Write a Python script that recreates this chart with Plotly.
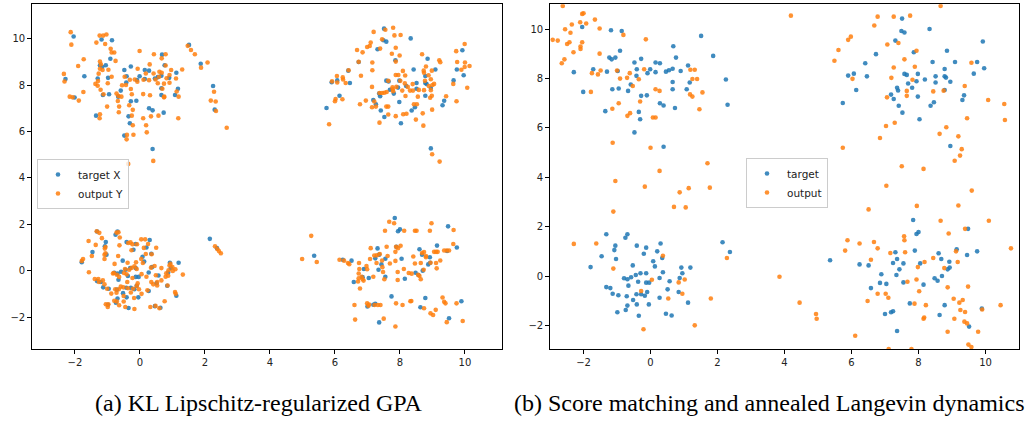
import plotly.graph_objects as go

# ---------------- data ----------------
# target points (shared by both panels), per cluster, (x, y)
target_tl = [(-2.04,10.09),(-2.29,8.26),(-2.01,7.46),(-1.71,8.38),(-1.30,8.28),(-1.35,6.68),(-1.18,9.96),(-1.23,8.85),(-1.16,8.78),(-1.05,8.85),(-1.14,7.57),(-0.98,8.31),(-0.95,7.60),(-0.86,9.93),(-0.91,9.13),(-0.67,7.50),(-0.59,7.76),(-0.48,8.65),(-0.41,8.38),(-0.42,8.11),(-0.28,8.80),(-0.28,7.30),(-0.11,7.32),(-0.35,6.65),(-0.31,6.35),(-0.48,5.82),(-0.09,8.22),(-0.01,8.38),(0.15,8.65),(0.15,8.26),(0.28,8.62),(0.28,7.00),(0.39,6.91),(0.39,5.24),(0.46,8.28),(0.55,8.34),(0.66,8.40),(0.68,9.31),(0.66,7.86),(0.66,7.57),(0.73,6.81),(0.76,8.85),(0.90,8.31),(1.08,7.57),(1.12,8.53),(1.17,7.84),(1.51,9.73),(1.87,8.92),(2.25,7.96),(2.30,6.94)]
target_bl = [(-1.79,0.36),(-1.46,0.80),(-1.32,1.69),(-1.32,-0.45),(-1.20,-0.49),(-1.13,-0.72),(-1.05,1.23),(-1.08,1.05),(-1.03,0.69),(-0.96,-0.78),(-0.99,-1.47),(-0.75,1.55),(-0.69,1.69),(-0.79,-0.09),(-0.69,-0.13),(-0.58,-0.05),(-0.66,-0.39),(-0.71,-0.82),(-0.69,-1.20),(-0.74,-1.38),(-0.53,0.43),(-0.52,-0.97),(-0.44,0.04),(-0.41,1.23),(-0.37,-0.23),(-0.41,-1.15),(-0.42,-0.74),(-0.35,-1.61),(-0.30,0.11),(-0.28,-0.74),(-0.20,0.90),(-0.17,-0.80),(-0.13,1.15),(-0.13,0.11),(-0.13,-0.27),(-0.10,-0.65),(-0.04,-0.27),(-0.05,-1.15),(0.08,0.60),(0.13,0.39),(0.20,1.00),(0.27,-0.08),(0.27,-0.88),(0.30,1.32),(0.35,0.73),(0.37,0.15),(0.46,-1.53),(0.51,-0.54),(0.57,-0.21),(0.63,-1.60),(0.84,-0.65),(0.87,-0.08),(0.92,0.34),(0.95,0.11),(1.12,-1.08),(1.19,0.34),(2.15,1.37),(2.37,0.97)]
target_tr = [(5.74,7.01),(5.90,8.12),(6.07,8.20),(6.14,7.54),(6.41,8.62),(6.46,8.09),(6.73,8.99),(7.18,7.35),(7.26,7.17),(7.31,9.54),(7.36,7.63),(7.39,7.52),(7.41,6.90),(7.49,9.93),(7.51,10.43),(7.58,9.87),(7.52,6.62),(7.58,8.19),(7.65,8.15),(7.69,7.80),(7.81,7.63),(7.86,9.07),(7.94,7.89),(7.98,8.19),(7.98,7.27),(8.03,6.35),(8.19,7.96),(8.33,10.01),(8.36,6.90),(8.42,8.67),(8.46,7.04),(8.51,8.09),(8.51,7.84),(8.78,8.39),(8.78,8.09),(8.82,8.04),(8.78,7.54),(8.85,9.13),(8.95,7.87),(8.95,5.27),(9.09,8.67),(9.31,7.13),(9.36,7.32),(9.65,8.20),(9.75,8.67),(9.92,9.50),(9.96,8.42)]
target_br = [(5.36,0.64),(6.24,0.47),(6.51,0.43),(6.58,-0.49),(6.85,-0.28),(6.89,0.07),(7.04,-0.32),(7.00,-1.54),(7.18,-1.47),(7.24,-1.43),(7.24,0.53),(7.31,0.96),(7.36,0.69),(7.34,0.04),(7.36,-2.23),(7.43,0.27),(7.55,0.51),(7.55,-0.26),(7.74,-1.11),(7.84,2.27),(7.89,1.03),(7.94,1.70),(8.00,1.78),(8.05,0.51),(8.15,-0.35),(8.48,-0.09),(8.57,-0.19),(8.60,0.92),(8.68,0.69),(8.70,0.00),(8.63,-1.58),(8.78,-1.18),(8.87,0.27),(8.93,0.34),(8.92,0.58),(9.14,1.08),(9.45,0.85),(9.48,1.91),(9.51,-2.05),(9.75,1.00),(9.89,-1.32)]

# panel (a): output Y of KL Lipschitz-regularized GPA
out_a_tl = [(-2.13,10.28),(-2.11,9.74),(-2.34,8.48),(-2.32,8.15),(-2.16,7.50),(-2.07,7.47),(-1.88,7.33),(-1.90,8.82),(-1.73,9.11),(-1.74,7.70),(-1.34,9.83),(-1.24,10.13),(-1.13,10.13),(-1.03,10.18),(-1.07,9.77),(-1.37,8.05),(-1.30,7.97),(-1.23,9.01),(-1.20,8.89),(-1.23,8.70),(-1.15,8.65),(-1.27,8.49),(-1.29,8.17),(-1.21,7.80),(-1.23,6.74),(-1.24,6.57),(-1.12,7.60),(-0.97,8.66),(-0.99,8.08),(-1.01,7.07),(-0.90,9.56),(-0.87,9.40),(-0.79,9.40),(-0.75,9.04),(-0.87,8.36),(-0.72,7.63),(-0.66,7.53),(-0.68,7.31),(-0.64,7.07),(-0.65,6.83),(-0.55,7.99),(-0.57,7.50),(-0.47,8.36),(-0.43,8.00),(-0.40,5.85),(-0.41,5.66),(-0.36,4.60),(-0.31,8.23),(-0.33,7.13),(-0.28,7.83),(-0.25,7.60),(-0.22,6.93),(-0.25,6.68),(-0.22,6.27),(-0.20,5.86),(-0.16,8.24),(-0.08,8.14),(-0.07,8.70),(-0.01,9.47),(0.11,8.23),(0.10,7.61),(0.10,6.57),(0.19,6.27),(0.21,5.96),(0.18,8.50),(0.28,8.21),(0.30,8.89),(0.31,7.56),(0.34,6.65),(0.41,4.73),(0.43,9.33),(0.42,8.50),(0.48,8.24),(0.55,8.08),(0.57,6.68),(0.59,8.36),(0.60,8.57),(0.67,8.53),(0.67,9.15),(0.69,7.84),(0.75,7.50),(0.74,8.06),(0.79,9.33),(0.79,8.84),(0.74,7.47),(0.82,8.29),(0.91,8.43),(0.91,8.10),(0.96,8.65),(1.11,8.28),(1.13,7.72),(1.19,7.50),(1.18,6.57),(1.30,8.67),(1.47,9.69),(1.57,9.51),(1.69,9.33),(1.88,8.75),(2.08,8.97),(2.18,7.33),(2.28,7.71),(2.33,7.29),(2.34,6.88),(2.67,6.16)]
out_a_tr = [(5.82,6.31),(5.91,8.16),(6.06,8.39),(6.07,8.11),(6.24,8.33),(6.25,8.24),(6.33,8.09),(6.00,7.30),(6.02,7.40),(6.23,7.39),(6.42,8.64),(6.68,9.51),(6.73,9.00),(6.77,7.17),(6.80,8.40),(6.85,9.41),(6.95,7.33),(6.99,9.64),(7.07,9.68),(7.10,9.83),(7.15,8.97),(7.15,8.64),(7.14,7.92),(7.19,10.29),(7.14,7.04),(7.26,7.07),(7.21,7.29),(7.37,6.38),(7.37,7.66),(7.39,9.57),(7.45,7.66),(7.55,10.38),(7.45,9.97),(7.52,7.67),(7.59,7.70),(7.58,7.07),(7.64,7.07),(7.64,6.73),(7.64,8.18),(7.75,9.35),(7.79,10.47),(7.83,10.14),(7.87,9.61),(7.87,9.01),(7.87,8.43),(7.87,6.66),(7.89,7.92),(7.95,8.43),(7.99,9.27),(8.02,10.16),(8.01,8.18),(7.78,7.82),(7.79,7.73),(7.77,7.90),(8.09,8.61),(8.16,8.41),(8.15,8.07),(8.17,7.53),(8.07,7.76),(8.10,6.74),(8.20,6.76),(8.24,7.92),(8.31,7.76),(8.39,8.04),(8.40,7.76),(8.43,7.17),(8.49,6.51),(8.52,7.17),(8.55,7.50),(8.58,7.79),(8.68,9.33),(8.70,6.78),(8.72,6.25),(8.73,8.62),(8.74,8.53),(8.80,8.80),(8.77,8.18),(8.74,7.78),(8.88,8.42),(8.89,7.96),(8.98,8.62),(8.95,8.25),(8.95,7.78),(9.00,8.00),(8.93,7.45),(8.99,6.94),(9.05,8.05),(8.98,7.54),(8.99,5.02),(9.22,4.70),(9.21,9.07),(9.24,8.98),(9.42,7.52),(9.64,8.05),(9.73,9.46),(9.74,7.30),(9.76,8.99),(9.89,8.66),(9.99,9.77),(10.00,8.97),(9.99,8.78),(10.07,7.88),(10.14,8.82)]
out_a_bl = [(-1.79,0.42),(-1.75,0.50),(-1.58,1.28),(-1.57,-0.07),(-1.48,0.63),(-1.36,1.11),(-1.33,1.70),(-1.25,1.63),(-1.39,-0.36),(-1.28,-0.36),(-1.26,-0.49),(-1.17,1.40),(-1.14,-0.42),(-1.09,0.68),(-1.09,0.50),(-1.06,0.75),(-1.06,1.02),(-1.08,0.95),(-1.01,-0.78),(-1.09,-0.59),(-1.05,-1.45),(-0.99,-1.57),(-0.97,-1.45),(-0.88,-0.99),(-0.83,-0.12),(-0.80,-0.10),(-0.78,0.29),(-0.76,-0.80),(-0.72,-0.95),(-0.71,-1.33),(-0.79,-1.30),(-0.72,1.64),(-0.66,1.65),(-0.62,1.43),(-0.67,0.63),(-0.63,1.09),(-0.71,-0.18),(-0.64,-0.27),(-0.65,-0.80),(-0.59,-0.69),(-0.64,-1.49),(-0.51,-0.72),(-0.50,-1.09),(-0.50,-1.33),(-0.49,-0.10),(-0.46,0.07),(-0.41,-0.16),(-0.39,-0.49),(-0.37,-0.76),(-0.38,0.34),(-0.36,1.19),(-0.29,1.22),(-0.33,0.04),(-0.28,-0.94),(-0.25,0.12),(-0.26,0.88),(-0.23,1.14),(-0.23,-0.32),(-0.21,-0.78),(-0.18,-1.18),(-0.17,-1.65),(-0.17,0.19),(-0.12,0.36),(-0.10,0.07),(-0.09,1.14),(-0.10,-0.66),(-0.07,-0.55),(-0.03,-0.80),(0.04,1.35),(0.04,0.50),(0.05,-0.15),(0.05,-1.00),(0.09,0.33),(0.12,0.98),(0.16,1.35),(0.18,0.72),(0.20,-0.26),(0.23,-0.85),(0.25,1.15),(0.36,0.71),(0.34,0.13),(0.35,-0.49),(0.32,-1.57),(0.41,-0.59),(0.45,0.20),(0.49,-0.20),(0.50,0.99),(0.48,-1.52),(0.53,-0.64),(0.53,-0.49),(0.60,-1.62),(0.66,0.11),(0.66,-0.42),(0.76,-1.32),(0.79,-0.26),(0.81,-0.11),(0.85,-0.64),(0.87,-0.22),(0.88,0.02),(0.91,0.22),(0.94,0.29),(1.00,0.15),(1.01,-0.01),(1.08,-0.92),(1.09,0.06),(1.10,-1.00),(1.32,-0.17),(2.31,1.05),(2.38,0.93),(2.43,0.85),(2.49,0.75),(-0.45,-1.57)]
out_a_br = [(4.99,0.50),(5.27,1.50),(5.44,0.37),(6.14,0.47),(6.28,0.43),(6.40,0.33),(6.44,0.28),(6.60,-1.48),(6.62,-2.11),(6.71,-0.47),(6.73,-0.33),(6.73,-0.12),(6.75,0.07),(6.74,0.33),(6.77,-0.77),(6.82,-0.26),(6.85,-0.37),(6.88,-0.43),(6.97,0.20),(6.99,0.06),(6.99,-1.41),(7.03,-1.51),(7.05,-1.46),(7.08,0.50),(7.10,0.97),(7.18,-0.26),(7.21,0.65),(7.22,-1.48),(7.28,0.33),(7.29,0.66),(7.38,0.72),(7.32,-1.48),(7.40,-1.48),(7.45,0.44),(7.46,0.15),(7.48,-0.06),(7.50,-2.07),(7.52,-0.37),(7.54,1.72),(7.59,1.03),(7.62,0.63),(7.67,2.11),(7.69,0.31),(7.82,2.04),(7.86,0.81),(7.86,0.42),(7.88,1.03),(7.88,-1.41),(7.86,-2.41),(7.93,-0.06),(7.93,-0.40),(7.94,0.97),(8.02,1.07),(8.08,-1.48),(8.13,1.72),(8.12,0.07),(8.32,-1.32),(8.35,-1.31),(8.41,0.61),(8.46,1.72),(8.51,1.72),(8.46,0.31),(8.27,-0.10),(8.36,-0.13),(8.56,-0.18),(8.60,-0.23),(8.64,0.33),(8.64,-0.37),(8.68,0.76),(8.74,-1.62),(8.73,0.04),(8.74,0.80),(8.80,0.63),(8.80,0.58),(8.92,1.72),(8.94,0.34),(8.97,2.04),(8.94,-1.84),(9.02,-1.91),(9.10,-1.69),(9.05,0.81),(9.11,0.81),(9.16,0.81),(9.11,0.33),(9.13,0.10),(9.24,0.44),(9.31,-1.16),(9.36,-1.34),(9.40,-1.41),(9.36,0.87),(9.44,0.87),(9.51,0.87),(9.44,-2.22),(9.65,1.75),(9.64,1.15),(9.74,-1.41),(9.93,-2.17)]

# panel (b): output of score matching + annealed Langevin dynamics
out_b_tl = [(-2.92,9.57),(-2.77,9.54),(-2.62,10.94),(-2.65,8.62),(-2.57,8.78),(-2.55,10.00),(-2.49,9.40),(-2.42,9.47),(-2.39,9.86),(-2.35,10.19),(-2.30,9.07),(-2.10,10.28),(-2.09,9.30),(-2.09,9.20),(-2.04,10.62),(-2.00,10.65),(-2.04,9.47),(-1.92,10.23),(-1.78,7.46),(-1.75,8.22),(-1.66,10.39),(-1.57,8.17),(-1.52,10.03),(-1.52,9.01),(-1.49,8.33),(-1.14,6.78),(-1.13,5.40),(-1.05,3.85),(-1.00,8.33),(-0.95,7.00),(-0.91,8.00),(-0.81,9.77),(-0.70,8.03),(-0.69,6.49),(-0.62,8.22),(-0.61,6.60),(-0.53,7.70),(-0.35,7.97),(-0.31,7.07),(-0.19,8.38),(-0.14,9.59),(-0.17,3.62),(0.00,5.20),(0.07,6.42),(0.15,6.42),(0.15,7.57),(0.27,4.26),(0.27,7.50),(0.87,3.39),(1.14,3.56),(1.19,8.36),(1.32,8.36),(1.18,7.36),(1.25,7.27),(1.25,7.98),(1.39,7.98),(1.46,6.76),(1.55,7.44),(1.70,4.57),(1.77,3.58)]
out_b_bl = [(-2.29,1.30),(-1.62,1.32),(-1.11,2.61),(-1.11,0.30),(-0.28,-0.61),(-0.21,-2.16),(0.04,-0.15),(0.37,0.82),(0.53,-0.91),(0.70,2.80),(0.84,-0.26),(0.95,-0.72),(1.02,-0.14),(1.05,2.78),(1.32,-2.00),(1.80,-0.91),(2.28,0.73)]
out_b_tr = [(4.19,10.55),(5.49,8.72),(5.61,9.16),(5.74,5.20),(5.90,9.57),(5.98,9.70),(6.03,7.99),(6.68,10.15),(6.78,10.51),(6.85,5.59),(7.03,6.08),(7.04,3.66),(7.07,9.38),(7.06,7.24),(7.19,8.03),(7.26,8.45),(7.26,10.51),(7.29,6.21),(7.40,9.44),(7.50,4.45),(7.58,8.78),(7.65,7.30),(7.65,7.50),(7.75,10.55),(7.82,7.95),(7.89,8.48),(7.94,9.13),(8.15,4.34),(8.44,7.48),(8.63,5.76),(8.66,10.94),(8.75,7.51),(8.83,6.03),(9.08,4.67),(9.19,5.66),(9.24,4.88),(9.29,5.14),(9.38,7.70),(9.45,6.39),(9.59,3.46),(9.58,8.64),(10.08,7.13),(10.56,6.97),(10.58,6.32)]
out_b_br = [(3.85,-0.03),(4.45,-1.08),(4.94,-1.54),(4.96,-1.73),(5.81,1.03),(5.88,1.45),(6.11,-2.42),(6.24,1.32),(6.48,-1.01),(6.51,2.70),(6.58,0.66),(6.67,1.38),(6.78,1.12),(6.78,-0.72),(7.02,-0.72),(7.10,-0.88),(7.11,-2.96),(7.16,0.93),(7.57,1.61),(7.58,1.45),(7.60,0.96),(7.67,-0.23),(7.79,-2.96),(7.88,-1.12),(7.94,-0.14),(7.95,2.84),(7.98,0.36),(8.02,-0.62),(8.15,-1.73),(8.18,0.57),(8.17,-1.68),(8.22,-1.18),(8.44,0.73),(8.66,2.24),(8.77,0.32),(8.87,-0.46),(8.87,-2.26),(8.90,1.72),(9.05,-0.92),(9.07,-1.73),(9.12,1.00),(9.17,0.57),(9.19,2.86),(9.22,-1.08),(9.25,-1.38),(9.32,-0.97),(9.37,-1.85),(9.39,-1.46),(9.39,1.91),(9.45,-1.92),(9.48,-0.43),(9.49,-2.78),(9.58,-2.88),(9.78,-2.26),(9.90,-1.36),(10.10,2.24),(10.45,-1.18),(10.76,1.12)]

tick_vals = [-2, 0, 2, 4, 6, 8, 10]
tick_text = ["\u22122", "0", "2", "4", "6", "8", "10"]
captions = ["(a) KL Lipschitz-regularized GPA",
            "(b) Score matching and annealed Langevin dynamics"]
legend_a = ["target X", "output Y"]
legend_b = ["target", "output"]

# ---------------- figure ----------------
BLUE = "#1f77b4"
ORANGE = "#ff7f0e"
W, H = 1025, 423


def xy(*groups):
    pts = [p for g in groups for p in g]
    return [p[0] for p in pts], [p[1] for p in pts]


tx, ty = xy(target_tl, target_bl, target_tr, target_br)
ax_, ay_ = xy(out_a_tl, out_a_tr, out_a_bl, out_a_br)
bx_, by_ = xy(out_b_tl, out_b_bl, out_b_tr, out_b_br)

mk = dict(size=4.6, opacity=0.85, line=dict(width=0))

fig = go.Figure()
fig.add_trace(go.Scatter(x=tx, y=ty, mode="markers", name=legend_a[0],
                         marker=dict(color=BLUE, **mk), xaxis="x", yaxis="y", legend="legend"))
fig.add_trace(go.Scatter(x=ax_, y=ay_, mode="markers", name=legend_a[1],
                         marker=dict(color=ORANGE, **mk), xaxis="x", yaxis="y", legend="legend"))
fig.add_trace(go.Scatter(x=tx, y=ty, mode="markers", name=legend_b[0],
                         marker=dict(color=BLUE, **mk), xaxis="x2", yaxis="y2", legend="legend2"))
fig.add_trace(go.Scatter(x=bx_, y=by_, mode="markers", name=legend_b[1],
                         marker=dict(color=ORANGE, **mk), xaxis="x2", yaxis="y2", legend="legend2"))

axis_common = dict(showline=True, mirror=True, linecolor="black", linewidth=1,
                   ticks="outside", ticklen=3.5, tickwidth=1, tickcolor="black",
                   showgrid=False, zeroline=False,
                   tickvals=tick_vals, ticktext=tick_text,
                   tickfont=dict(family="DejaVu Sans", size=10, color="#222222"))

legend_common = dict(xanchor="left", yanchor="top",
                     bgcolor="rgba(255,255,255,0.8)", bordercolor="#cccccc", borderwidth=1,
                     font=dict(family="DejaVu Sans", size=10.5, color="#222222"),
                     itemsizing="trace", tracegroupgap=0)

ydom = [1 - 349.3 / H, 1 - 4.3 / H]
fig.update_layout(
    width=W, height=H,
    margin=dict(l=0, r=0, t=0, b=0),
    paper_bgcolor="white", plot_bgcolor="white",
    xaxis=dict(domain=[31.7 / W, 501.7 / W], range=[-3.33, 11.13], anchor="y", **axis_common),
    yaxis=dict(domain=ydom, range=[-3.39, 11.48], anchor="x", **axis_common),
    xaxis2=dict(domain=[549.7 / W, 1019 / W], range=[-3.01, 11.0], anchor="y2", **axis_common),
    yaxis2=dict(domain=ydom, range=[-2.97, 11.01], anchor="x2", **axis_common),
    legend=dict(x=37 / W, y=1 - 159 / H, **legend_common),
    legend2=dict(x=746 / W, y=1 - 158 / H, **legend_common),
    showlegend=True,
)

for cap, cx in zip(captions, [258, 769]):
    fig.add_annotation(text=cap, x=cx / W, y=1 - 403 / H, xref="paper", yref="paper",
                       xanchor="center", yanchor="middle", showarrow=False,
                       font=dict(family="Liberation Serif", size=24, color="black"))

fig.write_html("out.html")
